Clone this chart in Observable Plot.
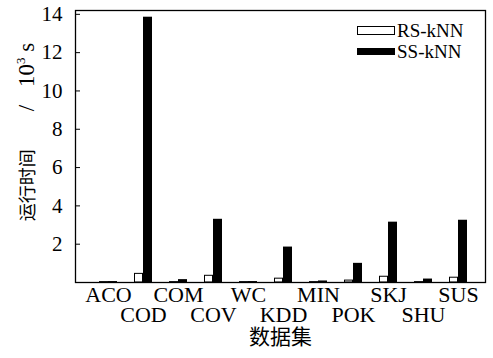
<!DOCTYPE html>
<html>
<head>
<meta charset="utf-8">
<script src="https://cdn.jsdelivr.net/npm/d3@7"></script>
<script src="https://cdn.jsdelivr.net/npm/@observablehq/plot@0.6"></script>
<style>
  body { margin: 0; background: #fff; }
  #wrap { position: relative; width: 493px; height: 358px; font-family: "Liberation Serif", "Noto Sans CJK SC", serif; }
  .lg { position: absolute; font-size: 19px; line-height: 18px; color: #000; font-family: "Liberation Serif", serif; white-space: nowrap; }
  .sw { position: absolute; box-sizing: border-box; }
  svg text { font-family: "Liberation Serif", "Noto Sans CJK SC", serif; }
  #ylab { position: absolute; left: 27px; top: 132px; transform: translate(-50%, -50%) rotate(-90deg); white-space: nowrap; color: #000; line-height: 26px; font-family: "Liberation Serif", serif; }
  #ylab .cjk { font-family: "Noto Sans CJK SC", sans-serif; font-size: 18px; }
  #ylab .lat { font-size: 23px; }
  #ylab sup { font-size: 13px; vertical-align: 9px; line-height: 0; }
</style>
</head>
<body>
<div id="wrap"></div>
<script>
const datasets = ["ACO","COD","COM","COV","WC","KDD","MIN","POK","SKJ","SHU","SUS"];
const rsKnn = [0.02, 0.45, 0.02, 0.35, 0.02, 0.2, 0.02, 0.1, 0.3, 0.02, 0.25];
const ssKnn = [0.05, 13.85, 0.15, 3.3, 0.05, 1.85, 0.08, 1.0, 3.15, 0.18, 3.25];
const yTicks = [2, 4, 6, 8, 10, 12, 14];
const seriesNames = ["RS-kNN", "SS-kNN"];
const yTitle = ["运行时间", "/", "10", "3", "s"];
const xTitle = "数据集";

const rows = datasets.map((d, i) => ({dataset: d, rs: rsKnn[i], ss: ssKnn[i]}));
const even = datasets.filter((d, i) => i % 2 === 0);
const odd = datasets.filter((d, i) => i % 2 === 1);
const serif = "Liberation Serif";

const chart = Plot.plot({
  width: 493,
  height: 358,
  marginLeft: 75,
  marginRight: 8,
  marginTop: 10,
  marginBottom: 76,
  style: {fontFamily: serif, fontSize: "20px", color: "#000", background: "#fff"},
  x: {domain: datasets, paddingInner: 0.48, paddingOuter: 0.44, align: 0.58, axis: null},
  y: {domain: [0, 14.2], axis: null},
  marks: [
    Plot.barY(rows, {x: "dataset", y: "rs", fill: "#fff", stroke: "#000", strokeWidth: 1, insetRight: 9.5, insetLeft: 0.5}),
    Plot.barY(rows, {x: "dataset", y: "ss", fill: "#000", insetLeft: 9}),
    Plot.axisY({ticks: yTicks, tickSize: -5, tickPadding: 18, tickFormat: d => d, fontSize: 21, fontFamily: serif, label: null}),
    Plot.axisX({ticks: even, tickSize: 0, tickPadding: 4, fontSize: 22, fontFamily: serif, label: null}),
    Plot.axisX({ticks: odd, tickSize: 0, tickPadding: 24, fontSize: 22, fontFamily: serif, label: null}),
    Plot.frame({stroke: "#000", strokeWidth: 1.3}),
    Plot.text([xTitle], {frameAnchor: "bottom", lineAnchor: "middle", dy: 55, fontSize: 21, fill: "#000", fontFamily: "Noto Sans CJK SC"})
  ]
});

const wrap = document.getElementById("wrap");
wrap.appendChild(chart);

const yl = document.createElement("div");
yl.id = "ylab";
yl.innerHTML = `<span class="cjk">${yTitle[0]}</span><span class="lat" style="margin-left:38px">${yTitle[1]}</span><span class="lat" style="margin-left:18px">${yTitle[2]}<sup>${yTitle[3]}</sup> ${yTitle[4]}</span>`;
wrap.appendChild(yl);

const legend = [
  {name: seriesNames[0], top: 26, h: 9, fill: "#fff"},
  {name: seriesNames[1], top: 48, h: 7, fill: "#000"}
];
legend.forEach(l => {
  const sw = document.createElement("div");
  sw.className = "sw";
  sw.style.cssText = `left:357px;top:${l.top}px;width:38px;height:${l.h}px;background:${l.fill};border:1px solid #000;`;
  wrap.appendChild(sw);
  const t = document.createElement("div");
  t.className = "lg";
  t.textContent = l.name;
  t.style.left = "397px";
  t.style.top = (l.top + l.h / 2 - 9) + "px";
  wrap.appendChild(t);
});
</script>
</body>
</html>
